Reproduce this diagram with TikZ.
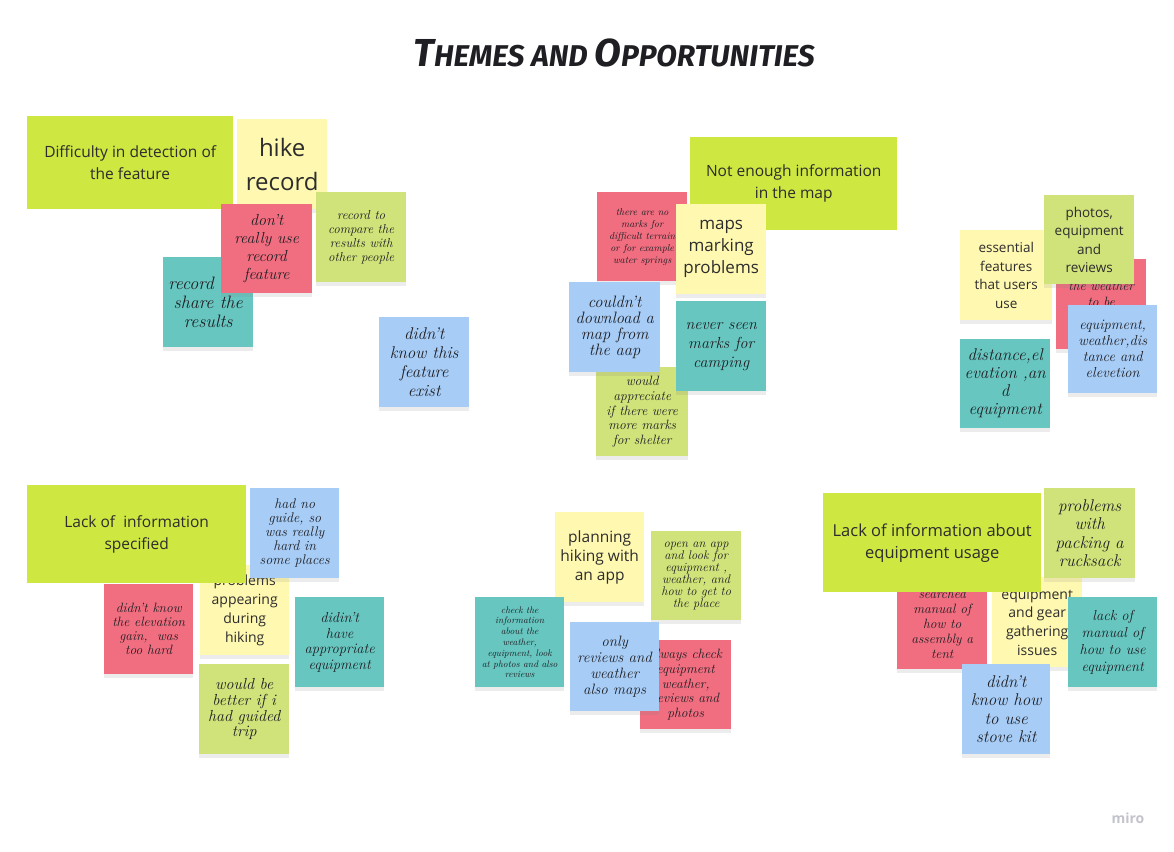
\documentclass[tikz,border=0pt]{standalone}
\usepackage{fontspec}
\usepackage{tikz}
\usetikzlibrary{shadows}
\newfontfamily\opensans{Open Sans}
\newfontfamily\titlefont{Fira Sans}
\definecolor{themegreen}{RGB}{206, 231, 65}
\definecolor{noteyellow}{RGB}{255, 248, 177}
\definecolor{notepink}{RGB}{240, 110, 128}
\definecolor{notegreen}{RGB}{208, 226, 122}
\definecolor{noteteal}{RGB}{104, 198, 192}
\definecolor{noteblue}{RGB}{167, 204, 245}
\definecolor{inkgray}{RGB}{45, 45, 45}
\definecolor{inkdark}{RGB}{30, 30, 35}
\definecolor{logogray}{RGB}{195, 195, 205}
\newcommand\fsz[2]{\fontsize{#1}{#2}\selectfont}

\begin{document}
\begin{tikzpicture}[
    x=1pt, y=-1pt,
    theme/.style={anchor=north west, fill=themegreen, inner sep=0pt, align=center,
                  text=inkgray, font=\opensans\fsz{15.5}{22}},
    note/.style={anchor=north west, inner sep=0pt, align=center,
                 minimum width=90pt, minimum height=90pt, text=inkdark,
                 drop shadow={shadow xshift=0pt, shadow yshift=-4pt, opacity=0.15}},
    hand/.style 2 args={note, font=\itshape\fsz{#1}{#2}},
    typed/.style 2 args={note, text=inkgray, font=\opensans\fsz{#1}{#2}},
  ]
    \fill[white] (0,0) rectangle (1174,851);
    \useasboundingbox (0,0) rectangle (1174,851);

    \node[font=\titlefont\bfseries\itshape\fsz{30}{34}, text=inkdark] (title) at (614,53)
      {{\fsz{39}{39}T}HEMES AND {\fsz{39}{39}O}PPORTUNITIES};

    % Difficulty in detection (top left)
    \node[theme, minimum width=206pt, minimum height=93pt] (difficulty) at (27,116) {Difficulty in detection of\\the feature};
    \node[typed={24}{34}, fill=noteyellow] (hike) at (237,119) {hike\\record};
    \node[hand={18}{19}, fill=noteteal] (share) at (163,257) {record and\\share the\\results};
    \node[hand={13}{14}, fill=notegreen] (compare) at (316,192) {record to\\compare the\\results with\\other people};
    \node[hand={16}{18}, fill=notepink, minimum width=91pt, minimum height=89pt] (dontuse) at (221,204) {don't\\really use\\record\\feature};
    \node[hand={17}{19}, fill=noteblue] (notexist) at (379,317) {didn't\\know this\\feature\\exist};

    % Not enough information (top middle)
    \node[theme, minimum width=207pt, minimum height=93pt] (mapinfo) at (690,137) {Not enough information\\in the map};
    \node[hand={10}{12}, fill=notepink, minimum height=89pt] (nomarks) at (597,192) {there are no\\marks for\\difficult terrain\\or for example\\water springs};
    \node[typed={17}{22}, fill=noteyellow] (maps) at (676,204) {maps\\marking\\problems};
    \node[hand={13.5}{14.6}, fill=notegreen, minimum width=92pt, minimum height=89pt] (shelter) at (596,367) {would\\appreciate\\if there were\\more marks\\for shelter};
    \node[hand={16.5}{16}, fill=noteblue, minimum width=91pt] (download) at (569,282) {couldn't\\download a\\map from\\the aap};
    \node[hand={16}{19}, fill=noteteal] (camping) at (676,301) {never seen\\marks for\\camping};

    % Essential features (top right)
    \node[hand={13.5}{16}, fill=notepink] (weather) at (1056,259) {the weather\\to be\\\strut};
    \node[typed={13.5}{18.5}, fill=noteyellow, minimum width=92pt] (essential) at (960,230) {essential\\features\\that users\\use};
    \node[typed={13.5}{18.5}, fill=notegreen, minimum height=89pt] (photos) at (1044,195) {photos,\\equipment\\and\\reviews};
    \node[hand={14.5}{16}, fill=noteblue, minimum width=89pt, minimum height=88pt] (elevation) at (1068,305) {equipment,\\weather,dis\\tance and\\elevetion};
    \node[hand={17}{18}, fill=noteteal, minimum height=89pt] (distance) at (960,339) {distance,el\\evation ,an\\d\\equipment};

    % Lack of information specified (bottom left)
    \node[hand={13.5}{14}, fill=notepink, minimum width=89pt] (gain) at (104,584) {didn't know\\the elevation\\gain,\ \ was\\too hard};
    \node[typed={14}{19}, fill=noteyellow, minimum width=89pt] (appearing) at (200,565) {problems\\appearing\\during\\hiking};
    \node[theme, minimum width=219pt, minimum height=98pt] (specified) at (27,485) {Lack of\ \ information\\specified};
    \node[hand={14}{14}, fill=noteblue, minimum width=89pt] (noguide) at (250,488) {had no\\guide, so\\was really\\hard in\\some places};
    \node[hand={14.5}{15.5}, fill=noteteal, minimum width=89pt] (appropriate) at (295,597) {didin't\\have\\appropriate\\equipment};
    \node[hand={16}{15.7}, fill=notegreen] (guidedtrip) at (199,664) {would be\\better if i\\had guided\\trip};

    % Planning with an app (bottom middle)
    \node[typed={15.5}{19}, fill=noteyellow, minimum width=89pt] (planning) at (555,512) {planning\\hiking with\\an app};
    \node[hand={12.5}{12}, fill=notegreen, minimum height=89pt] (openapp) at (651,531) {open an app\\and look for\\equipment ,\\weather, and\\how to get to\\the place};
    \node[hand={9.5}{10.8}, fill=noteteal, minimum width=89pt] (checkinfo) at (475,597) {check the\\information\\about the\\weather,\\equipment, look\\at photos and also\\reviews};
    \node[hand={13.5}{14.6}, fill=notepink, minimum width=91pt, minimum height=89pt] (always) at (640,640) {always check\\equipment\\weather,\\reviews and\\photos};
    \node[hand={15}{16}, fill=noteblue, minimum width=89pt, minimum height=89pt] (onlyreviews) at (570,622) {only\\reviews and\\weather\\also maps};

    % Equipment usage (bottom right)
    \node[hand={13.5}{15}, fill=notepink] (tent) at (897,579) {searched\\manual of\\how to\\assembly a\\tent};
    \node[typed={14}{18.7}, fill=noteyellow] (gear) at (992,577) {equipment\\and gear\\gathering\\issues};
    \node[theme, minimum width=218pt, minimum height=99pt, font=\opensans\fsz{16.5}{22}] (usage) at (823,493) {Lack of information about\\equipment usage};
    \node[hand={17}{18.3}, fill=notegreen, minimum width=91pt] (rucksack) at (1044,488) {problems\\with\\packing a\\rucksack};
    \node[hand={14.5}{17}, fill=noteteal, minimum width=89pt] (manual) at (1068,597) {lack of\\manual of\\how to use\\equipment};
    \node[hand={17}{18.3}, fill=noteblue, minimum width=88pt] (stove) at (962,664) {didn't\\know how\\to use\\stove kit};

    \node[font=\opensans\bfseries\fsz{14}{14}, text=logogray] (logo) at (1128,818) {miro};
  \end{tikzpicture}
\end{document}
